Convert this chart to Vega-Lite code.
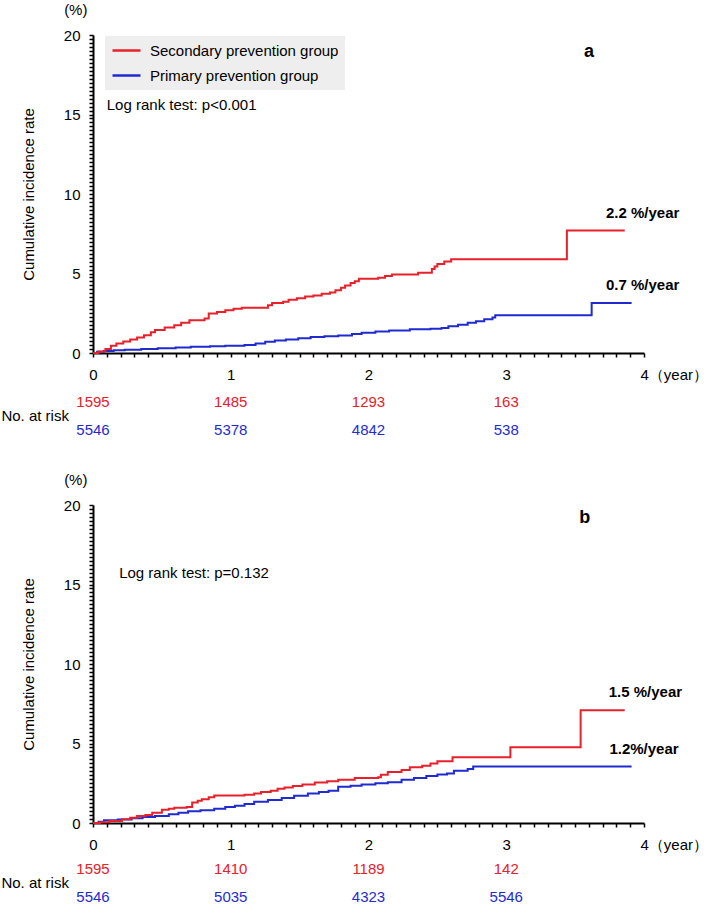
{
  "$schema": "https://vega.github.io/schema/vega-lite/v6.json",
  "padding": {"left": 1, "top": 2, "right": 0, "bottom": 0},
  "config": {
    "font": "Liberation Sans",
    "view": {"stroke": null},
    "axis": {"grid": false, "domainColor": "#000", "domainWidth": 2, "tickColor": "#000", "tickWidth": 1.5, "tickSize": 4, "labelColor": "#000", "labelFontSize": 15, "titleColor": "#000", "titleFontSize": 15, "titleFontWeight": "normal", "labelOverlap": false, "labelFlush": false, "labelBound": false},
    "legend": {"orient": "none", "legendX": 12, "legendY": 1, "fillColor": "#eeeeee", "padding": 6, "symbolType": "stroke", "symbolSize": 784, "symbolStrokeWidth": 2.5, "labelFontSize": 15, "labelColor": "#000", "labelOffset": 8, "labelLimit": 400, "clipHeight": 17, "rowPadding": 8},
    "text": {"fontSize": 15, "color": "#000"}
  },
  "datasets": {
    "curves": [
      {"panel":"a","group":"Primary prevention group","year":0,"rate":0},
      {"panel":"a","group":"Primary prevention group","year":0.03,"rate":0.08},
      {"panel":"a","group":"Primary prevention group","year":0.08,"rate":0.13},
      {"panel":"a","group":"Primary prevention group","year":0.15,"rate":0.17},
      {"panel":"a","group":"Primary prevention group","year":0.23,"rate":0.2},
      {"panel":"a","group":"Primary prevention group","year":0.35,"rate":0.25},
      {"panel":"a","group":"Primary prevention group","year":0.47,"rate":0.3},
      {"panel":"a","group":"Primary prevention group","year":0.6,"rate":0.35},
      {"panel":"a","group":"Primary prevention group","year":0.71,"rate":0.4},
      {"panel":"a","group":"Primary prevention group","year":0.85,"rate":0.43},
      {"panel":"a","group":"Primary prevention group","year":0.96,"rate":0.45},
      {"panel":"a","group":"Primary prevention group","year":1.1,"rate":0.5},
      {"panel":"a","group":"Primary prevention group","year":1.18,"rate":0.6},
      {"panel":"a","group":"Primary prevention group","year":1.25,"rate":0.7},
      {"panel":"a","group":"Primary prevention group","year":1.32,"rate":0.78},
      {"panel":"a","group":"Primary prevention group","year":1.4,"rate":0.85},
      {"panel":"a","group":"Primary prevention group","year":1.49,"rate":0.93},
      {"panel":"a","group":"Primary prevention group","year":1.58,"rate":1.0},
      {"panel":"a","group":"Primary prevention group","year":1.68,"rate":1.05},
      {"panel":"a","group":"Primary prevention group","year":1.78,"rate":1.1},
      {"panel":"a","group":"Primary prevention group","year":1.88,"rate":1.2},
      {"panel":"a","group":"Primary prevention group","year":1.95,"rate":1.28},
      {"panel":"a","group":"Primary prevention group","year":2.05,"rate":1.36},
      {"panel":"a","group":"Primary prevention group","year":2.15,"rate":1.42},
      {"panel":"a","group":"Primary prevention group","year":2.3,"rate":1.5},
      {"panel":"a","group":"Primary prevention group","year":2.45,"rate":1.53},
      {"panel":"a","group":"Primary prevention group","year":2.53,"rate":1.58},
      {"panel":"a","group":"Primary prevention group","year":2.58,"rate":1.68},
      {"panel":"a","group":"Primary prevention group","year":2.65,"rate":1.78},
      {"panel":"a","group":"Primary prevention group","year":2.72,"rate":1.9},
      {"panel":"a","group":"Primary prevention group","year":2.78,"rate":2.0},
      {"panel":"a","group":"Primary prevention group","year":2.84,"rate":2.12},
      {"panel":"a","group":"Primary prevention group","year":2.9,"rate":2.23},
      {"panel":"a","group":"Primary prevention group","year":2.92,"rate":2.38},
      {"panel":"a","group":"Primary prevention group","year":3.62,"rate":3.15},
      {"panel":"a","group":"Primary prevention group","year":3.91,"rate":3.15},
      {"panel":"a","group":"Secondary prevention group","year":0,"rate":0},
      {"panel":"a","group":"Secondary prevention group","year":0.04,"rate":0.1},
      {"panel":"a","group":"Secondary prevention group","year":0.09,"rate":0.25},
      {"panel":"a","group":"Secondary prevention group","year":0.13,"rate":0.45},
      {"panel":"a","group":"Secondary prevention group","year":0.17,"rate":0.6},
      {"panel":"a","group":"Secondary prevention group","year":0.22,"rate":0.72},
      {"panel":"a","group":"Secondary prevention group","year":0.27,"rate":0.85},
      {"panel":"a","group":"Secondary prevention group","year":0.32,"rate":0.98},
      {"panel":"a","group":"Secondary prevention group","year":0.37,"rate":1.12},
      {"panel":"a","group":"Secondary prevention group","year":0.42,"rate":1.3},
      {"panel":"a","group":"Secondary prevention group","year":0.45,"rate":1.44},
      {"panel":"a","group":"Secondary prevention group","year":0.52,"rate":1.6},
      {"panel":"a","group":"Secondary prevention group","year":0.59,"rate":1.75},
      {"panel":"a","group":"Secondary prevention group","year":0.64,"rate":1.9},
      {"panel":"a","group":"Secondary prevention group","year":0.7,"rate":2.06},
      {"panel":"a","group":"Secondary prevention group","year":0.81,"rate":2.17},
      {"panel":"a","group":"Secondary prevention group","year":0.84,"rate":2.48},
      {"panel":"a","group":"Secondary prevention group","year":0.9,"rate":2.58},
      {"panel":"a","group":"Secondary prevention group","year":0.96,"rate":2.69},
      {"panel":"a","group":"Secondary prevention group","year":1.02,"rate":2.78},
      {"panel":"a","group":"Secondary prevention group","year":1.08,"rate":2.85},
      {"panel":"a","group":"Secondary prevention group","year":1.27,"rate":3.0},
      {"panel":"a","group":"Secondary prevention group","year":1.3,"rate":3.15},
      {"panel":"a","group":"Secondary prevention group","year":1.38,"rate":3.22},
      {"panel":"a","group":"Secondary prevention group","year":1.42,"rate":3.35},
      {"panel":"a","group":"Secondary prevention group","year":1.48,"rate":3.45},
      {"panel":"a","group":"Secondary prevention group","year":1.54,"rate":3.56},
      {"panel":"a","group":"Secondary prevention group","year":1.6,"rate":3.62},
      {"panel":"a","group":"Secondary prevention group","year":1.66,"rate":3.73},
      {"panel":"a","group":"Secondary prevention group","year":1.72,"rate":3.8},
      {"panel":"a","group":"Secondary prevention group","year":1.76,"rate":3.94},
      {"panel":"a","group":"Secondary prevention group","year":1.8,"rate":4.1},
      {"panel":"a","group":"Secondary prevention group","year":1.83,"rate":4.25},
      {"panel":"a","group":"Secondary prevention group","year":1.87,"rate":4.4},
      {"panel":"a","group":"Secondary prevention group","year":1.9,"rate":4.52},
      {"panel":"a","group":"Secondary prevention group","year":1.93,"rate":4.67},
      {"panel":"a","group":"Secondary prevention group","year":2.07,"rate":4.73},
      {"panel":"a","group":"Secondary prevention group","year":2.12,"rate":4.85},
      {"panel":"a","group":"Secondary prevention group","year":2.17,"rate":4.94},
      {"panel":"a","group":"Secondary prevention group","year":2.36,"rate":5.04},
      {"panel":"a","group":"Secondary prevention group","year":2.46,"rate":5.29},
      {"panel":"a","group":"Secondary prevention group","year":2.48,"rate":5.44},
      {"panel":"a","group":"Secondary prevention group","year":2.5,"rate":5.6},
      {"panel":"a","group":"Secondary prevention group","year":2.55,"rate":5.75},
      {"panel":"a","group":"Secondary prevention group","year":2.6,"rate":5.9},
      {"panel":"a","group":"Secondary prevention group","year":3.44,"rate":7.7},
      {"panel":"a","group":"Secondary prevention group","year":3.86,"rate":7.7},
      {"panel":"b","group":"Primary prevention group","year":0,"rate":0},
      {"panel":"b","group":"Primary prevention group","year":0.04,"rate":0.08},
      {"panel":"b","group":"Primary prevention group","year":0.08,"rate":0.17},
      {"panel":"b","group":"Primary prevention group","year":0.18,"rate":0.22},
      {"panel":"b","group":"Primary prevention group","year":0.28,"rate":0.3},
      {"panel":"b","group":"Primary prevention group","year":0.36,"rate":0.37},
      {"panel":"b","group":"Primary prevention group","year":0.45,"rate":0.44},
      {"panel":"b","group":"Primary prevention group","year":0.55,"rate":0.55},
      {"panel":"b","group":"Primary prevention group","year":0.62,"rate":0.64},
      {"panel":"b","group":"Primary prevention group","year":0.69,"rate":0.74},
      {"panel":"b","group":"Primary prevention group","year":0.78,"rate":0.8},
      {"panel":"b","group":"Primary prevention group","year":0.88,"rate":0.9},
      {"panel":"b","group":"Primary prevention group","year":0.96,"rate":1.0},
      {"panel":"b","group":"Primary prevention group","year":1.03,"rate":1.08},
      {"panel":"b","group":"Primary prevention group","year":1.1,"rate":1.2},
      {"panel":"b","group":"Primary prevention group","year":1.17,"rate":1.33},
      {"panel":"b","group":"Primary prevention group","year":1.27,"rate":1.45},
      {"panel":"b","group":"Primary prevention group","year":1.37,"rate":1.58},
      {"panel":"b","group":"Primary prevention group","year":1.46,"rate":1.72},
      {"panel":"b","group":"Primary prevention group","year":1.56,"rate":1.85},
      {"panel":"b","group":"Primary prevention group","year":1.64,"rate":1.95},
      {"panel":"b","group":"Primary prevention group","year":1.71,"rate":2.03},
      {"panel":"b","group":"Primary prevention group","year":1.78,"rate":2.28},
      {"panel":"b","group":"Primary prevention group","year":1.87,"rate":2.35},
      {"panel":"b","group":"Primary prevention group","year":1.95,"rate":2.42},
      {"panel":"b","group":"Primary prevention group","year":2.05,"rate":2.5},
      {"panel":"b","group":"Primary prevention group","year":2.14,"rate":2.57},
      {"panel":"b","group":"Primary prevention group","year":2.24,"rate":2.72},
      {"panel":"b","group":"Primary prevention group","year":2.33,"rate":2.83},
      {"panel":"b","group":"Primary prevention group","year":2.42,"rate":2.95},
      {"panel":"b","group":"Primary prevention group","year":2.5,"rate":3.05},
      {"panel":"b","group":"Primary prevention group","year":2.57,"rate":3.12},
      {"panel":"b","group":"Primary prevention group","year":2.62,"rate":3.29},
      {"panel":"b","group":"Primary prevention group","year":2.72,"rate":3.4},
      {"panel":"b","group":"Primary prevention group","year":2.76,"rate":3.55},
      {"panel":"b","group":"Primary prevention group","year":3.91,"rate":3.55},
      {"panel":"b","group":"Secondary prevention group","year":0,"rate":0},
      {"panel":"b","group":"Secondary prevention group","year":0.05,"rate":0.05},
      {"panel":"b","group":"Secondary prevention group","year":0.12,"rate":0.12},
      {"panel":"b","group":"Secondary prevention group","year":0.21,"rate":0.23},
      {"panel":"b","group":"Secondary prevention group","year":0.27,"rate":0.33},
      {"panel":"b","group":"Secondary prevention group","year":0.32,"rate":0.44},
      {"panel":"b","group":"Secondary prevention group","year":0.38,"rate":0.5},
      {"panel":"b","group":"Secondary prevention group","year":0.43,"rate":0.65},
      {"panel":"b","group":"Secondary prevention group","year":0.5,"rate":0.84},
      {"panel":"b","group":"Secondary prevention group","year":0.55,"rate":0.9},
      {"panel":"b","group":"Secondary prevention group","year":0.59,"rate":0.96},
      {"panel":"b","group":"Secondary prevention group","year":0.68,"rate":1.0},
      {"panel":"b","group":"Secondary prevention group","year":0.72,"rate":1.29},
      {"panel":"b","group":"Secondary prevention group","year":0.76,"rate":1.4},
      {"panel":"b","group":"Secondary prevention group","year":0.79,"rate":1.5},
      {"panel":"b","group":"Secondary prevention group","year":0.84,"rate":1.62},
      {"panel":"b","group":"Secondary prevention group","year":0.88,"rate":1.73},
      {"panel":"b","group":"Secondary prevention group","year":1.1,"rate":1.78},
      {"panel":"b","group":"Secondary prevention group","year":1.17,"rate":1.85},
      {"panel":"b","group":"Secondary prevention group","year":1.22,"rate":1.95},
      {"panel":"b","group":"Secondary prevention group","year":1.29,"rate":2.03},
      {"panel":"b","group":"Secondary prevention group","year":1.34,"rate":2.15},
      {"panel":"b","group":"Secondary prevention group","year":1.39,"rate":2.24},
      {"panel":"b","group":"Secondary prevention group","year":1.45,"rate":2.32},
      {"panel":"b","group":"Secondary prevention group","year":1.52,"rate":2.42},
      {"panel":"b","group":"Secondary prevention group","year":1.61,"rate":2.55},
      {"panel":"b","group":"Secondary prevention group","year":1.7,"rate":2.63},
      {"panel":"b","group":"Secondary prevention group","year":1.78,"rate":2.72},
      {"panel":"b","group":"Secondary prevention group","year":1.9,"rate":2.83},
      {"panel":"b","group":"Secondary prevention group","year":2.07,"rate":2.87},
      {"panel":"b","group":"Secondary prevention group","year":2.09,"rate":3.04},
      {"panel":"b","group":"Secondary prevention group","year":2.14,"rate":3.2},
      {"panel":"b","group":"Secondary prevention group","year":2.24,"rate":3.33},
      {"panel":"b","group":"Secondary prevention group","year":2.3,"rate":3.5},
      {"panel":"b","group":"Secondary prevention group","year":2.39,"rate":3.6},
      {"panel":"b","group":"Secondary prevention group","year":2.45,"rate":3.75},
      {"panel":"b","group":"Secondary prevention group","year":2.5,"rate":3.88},
      {"panel":"b","group":"Secondary prevention group","year":2.61,"rate":4.13},
      {"panel":"b","group":"Secondary prevention group","year":3.03,"rate":4.77},
      {"panel":"b","group":"Secondary prevention group","year":3.54,"rate":7.09},
      {"panel":"b","group":"Secondary prevention group","year":3.86,"rate":7.09}
    ],
    "risk": [
      {"panel":"a","group":"Secondary prevention group","year":0,"n":1595},
      {"panel":"a","group":"Secondary prevention group","year":1,"n":1485},
      {"panel":"a","group":"Secondary prevention group","year":2,"n":1293},
      {"panel":"a","group":"Secondary prevention group","year":3,"n":163},
      {"panel":"a","group":"Primary prevention group","year":0,"n":5546},
      {"panel":"a","group":"Primary prevention group","year":1,"n":5378},
      {"panel":"a","group":"Primary prevention group","year":2,"n":4842},
      {"panel":"a","group":"Primary prevention group","year":3,"n":538},
      {"panel":"b","group":"Secondary prevention group","year":0,"n":1595},
      {"panel":"b","group":"Secondary prevention group","year":1,"n":1410},
      {"panel":"b","group":"Secondary prevention group","year":2,"n":1189},
      {"panel":"b","group":"Secondary prevention group","year":3,"n":142},
      {"panel":"b","group":"Primary prevention group","year":0,"n":5546},
      {"panel":"b","group":"Primary prevention group","year":1,"n":5035},
      {"panel":"b","group":"Primary prevention group","year":2,"n":4323},
      {"panel":"b","group":"Primary prevention group","year":3,"n":5546}
    ]
  },
  "spacing": 28,
  "vconcat": [
    {
      "bounds": "flush",
      "spacing": 35,
      "vconcat": [
        {
          "width": 551, "height": 318,
          "layer": [
            {
              "data": {"name": "curves"},
              "transform": [{"filter": "datum.panel === 'a'"}],
              "mark": {"type": "line", "interpolate": "step-after", "strokeWidth": 2},
              "encoding": {
                "x": {"field": "year", "type": "quantitative", "scale": {"domain": [0, 4]},
                  "axis": {"title": null, "labelOverlap": false, "tickCount": 200, "values": [0,0.1,0.2,0.3,0.4,0.5,0.6,0.7,0.8,0.9,1,1.1,1.2,1.3,1.4,1.5,1.6,1.7,1.8,1.9,2,2.1,2.2,2.3,2.4,2.5,2.6,2.7,2.8,2.9,3,3.1,3.2,3.3,3.4,3.5,3.6,3.7,3.8,3.9,4],
                    "labelExpr": "datum.value === 4 ? '4（year）' : (datum.value % 1 === 0 ? format(datum.value, 'd') : '')",
                    "labelAlign": {"condition": {"test": "datum.value === 4", "value": "left"}, "value": "center"},
                    "labelOffset": {"condition": {"test": "datum.value === 4", "value": -4}, "value": 0},
                    "labelPadding": 10}},
                "y": {"field": "rate", "type": "quantitative", "scale": {"domain": [0, 20]},
                  "axis": {"title": "Cumulative incidence rate", "labelOverlap": false, "tickCount": 200, "values": [0,0.25,0.5,0.75,1,1.25,1.5,1.75,2,2.25,2.5,2.75,3,3.25,3.5,3.75,4,4.25,4.5,4.75,5,5.25,5.5,5.75,6,6.25,6.5,6.75,7,7.25,7.5,7.75,8,8.25,8.5,8.75,9,9.25,9.5,9.75,10,10.25,10.5,10.75,11,11.25,11.5,11.75,12,12.25,12.5,12.75,13,13.25,13.5,13.75,14,14.25,14.5,14.75,15,15.25,15.5,15.75,16,16.25,16.5,16.75,17,17.25,17.5,17.75,18,18.25,18.5,18.75,19,19.25,19.5,19.75,20],
                    "labelExpr": "datum.value % 5 === 0 ? format(datum.value, 'd') : ''", "labelPadding": 9, "titlePadding": 27}},
                "color": {"field": "group", "type": "nominal",
                  "scale": {"domain": ["Secondary prevention group", "Primary prevention group"], "range": ["#e8202a", "#1f2bd0"]},
                  "legend": {"title": null}}
              }
            },
            {"data": {"values": [{}]}, "mark": {"type": "text", "text": "(%)", "align": "center", "baseline": "middle"},
              "encoding": {"x": {"datum": -0.125}, "y": {"datum": 21.6}}},
            {"data": {"values": [{}]}, "mark": {"type": "text", "text": "Log rank test: p<0.001", "align": "left", "baseline": "middle"},
              "encoding": {"x": {"datum": 0.1}, "y": {"datum": 15.6}}},
            {"data": {"values": [{}]}, "mark": {"type": "text", "text": "a", "align": "center", "baseline": "middle", "fontWeight": "bold", "fontSize": 18},
              "encoding": {"x": {"datum": 3.6}, "y": {"datum": 18.9}}},
            {"data": {"values": [{}]}, "mark": {"type": "text", "text": "2.2 %/year", "align": "center", "baseline": "middle", "fontWeight": "bold"},
              "encoding": {"x": {"datum": 3.99}, "y": {"datum": 8.8}}},
            {"data": {"values": [{}]}, "mark": {"type": "text", "text": "0.7 %/year", "align": "center", "baseline": "middle", "fontWeight": "bold"},
              "encoding": {"x": {"datum": 3.99}, "y": {"datum": 4.28}}}
          ]
        },
        {
          "width": 551, "height": 56,
          "layer": [
            {
              "data": {"name": "risk"},
              "transform": [{"filter": "datum.panel === 'a'"}],
              "mark": {"type": "text", "baseline": "middle", "align": "center"},
              "encoding": {
                "x": {"field": "year", "type": "quantitative", "scale": {"domain": [0, 4]}, "axis": null},
                "y": {"field": "group", "type": "nominal", "sort": ["Secondary prevention group", "Primary prevention group"], "axis": null},
                "text": {"field": "n", "type": "nominal"},
                "color": {"field": "group", "type": "nominal", "scale": {"domain": ["Secondary prevention group", "Primary prevention group"], "range": ["#dc2027", "#2424c0"]}, "legend": null}
              }
            },
            {"data": {"values": [{}]}, "mark": {"type": "text", "text": "No. at risk", "align": "right", "baseline": "middle"},
              "encoding": {"x": {"datum": -0.175}}}
          ]
        }
      ]
    },
    {
      "bounds": "flush",
      "spacing": 32,
      "vconcat": [
        {
          "width": 551, "height": 318,
          "layer": [
            {
              "data": {"name": "curves"},
              "transform": [{"filter": "datum.panel === 'b'"}],
              "mark": {"type": "line", "interpolate": "step-after", "strokeWidth": 2},
              "encoding": {
                "x": {"field": "year", "type": "quantitative", "scale": {"domain": [0, 4]},
                  "axis": {"title": null, "labelOverlap": false, "tickCount": 200, "values": [0,0.1,0.2,0.3,0.4,0.5,0.6,0.7,0.8,0.9,1,1.1,1.2,1.3,1.4,1.5,1.6,1.7,1.8,1.9,2,2.1,2.2,2.3,2.4,2.5,2.6,2.7,2.8,2.9,3,3.1,3.2,3.3,3.4,3.5,3.6,3.7,3.8,3.9,4],
                    "labelExpr": "datum.value === 4 ? '4（year）' : (datum.value % 1 === 0 ? format(datum.value, 'd') : '')",
                    "labelAlign": {"condition": {"test": "datum.value === 4", "value": "left"}, "value": "center"},
                    "labelOffset": {"condition": {"test": "datum.value === 4", "value": -4}, "value": 0},
                    "labelPadding": 10}},
                "y": {"field": "rate", "type": "quantitative", "scale": {"domain": [0, 20]},
                  "axis": {"title": "Cumulative incidence rate", "labelOverlap": false, "tickCount": 200, "values": [0,0.25,0.5,0.75,1,1.25,1.5,1.75,2,2.25,2.5,2.75,3,3.25,3.5,3.75,4,4.25,4.5,4.75,5,5.25,5.5,5.75,6,6.25,6.5,6.75,7,7.25,7.5,7.75,8,8.25,8.5,8.75,9,9.25,9.5,9.75,10,10.25,10.5,10.75,11,11.25,11.5,11.75,12,12.25,12.5,12.75,13,13.25,13.5,13.75,14,14.25,14.5,14.75,15,15.25,15.5,15.75,16,16.25,16.5,16.75,17,17.25,17.5,17.75,18,18.25,18.5,18.75,19,19.25,19.5,19.75,20],
                    "labelExpr": "datum.value % 5 === 0 ? format(datum.value, 'd') : ''", "labelPadding": 9, "titlePadding": 27}},
                "color": {"field": "group", "type": "nominal",
                  "scale": {"domain": ["Secondary prevention group", "Primary prevention group"], "range": ["#e8202a", "#1f2bd0"]},
                  "legend": {"title": null}}
              }
            },
            {"data": {"values": [{}]}, "mark": {"type": "text", "text": "(%)", "align": "center", "baseline": "middle"},
              "encoding": {"x": {"datum": -0.125}, "y": {"datum": 21.6}}},
            {"data": {"values": [{}]}, "mark": {"type": "text", "text": "Log rank test: p=0.132", "align": "left", "baseline": "middle"},
              "encoding": {"x": {"datum": 0.19}, "y": {"datum": 15.7}}},
            {"data": {"values": [{}]}, "mark": {"type": "text", "text": "b", "align": "center", "baseline": "middle", "fontWeight": "bold", "fontSize": 18},
              "encoding": {"x": {"datum": 3.57}, "y": {"datum": 19.2}}},
            {"data": {"values": [{}]}, "mark": {"type": "text", "text": "1.5 %/year", "align": "center", "baseline": "middle", "fontWeight": "bold"},
              "encoding": {"x": {"datum": 4.01}, "y": {"datum": 8.27}}},
            {"data": {"values": [{}]}, "mark": {"type": "text", "text": "1.2%/year", "align": "center", "baseline": "middle", "fontWeight": "bold"},
              "encoding": {"x": {"datum": 4.0}, "y": {"datum": 4.67}}}
          ]
        },
        {
          "width": 551, "height": 56,
          "layer": [
            {
              "data": {"name": "risk"},
              "transform": [{"filter": "datum.panel === 'b'"}],
              "mark": {"type": "text", "baseline": "middle", "align": "center"},
              "encoding": {
                "x": {"field": "year", "type": "quantitative", "scale": {"domain": [0, 4]}, "axis": null},
                "y": {"field": "group", "type": "nominal", "sort": ["Secondary prevention group", "Primary prevention group"], "axis": null},
                "text": {"field": "n", "type": "nominal"},
                "color": {"field": "group", "type": "nominal", "scale": {"domain": ["Secondary prevention group", "Primary prevention group"], "range": ["#dc2027", "#2424c0"]}, "legend": null}
              }
            },
            {"data": {"values": [{}]}, "mark": {"type": "text", "text": "No. at risk", "align": "right", "baseline": "middle"},
              "encoding": {"x": {"datum": -0.175}}}
          ]
        }
      ]
    }
  ]
}
